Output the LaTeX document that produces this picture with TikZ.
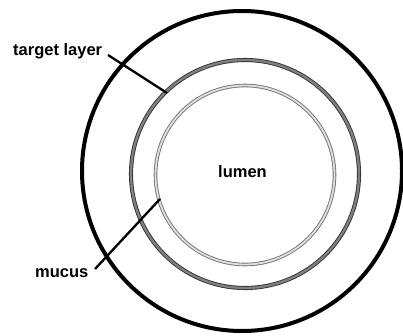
\documentclass[tikz,border=0pt]{standalone}
\usepackage{fontspec}
\setmainfont{Liberation Sans}
\begin{document}
\begin{tikzpicture}[x=1pt,y=-1pt,
  lbl/.style={font=\fontsize{16.5}{18}\selectfont\bfseries, inner sep=0pt},
  leader/.style={line width=2.3pt, black},
  outerwall/.style={line width=4pt, black},
  targetring/.style={draw=black!80, line width=0.9pt, double=black!50, double distance=2.3pt},
  mucusring/.style={draw=black!55, line width=0.9pt, double=black!12, double distance=1.8pt}]
\useasboundingbox (0,0) rectangle (403,336);
\draw[outerwall] (242,171) circle[radius=160];
\draw[targetring] (245,174) circle[radius=114];
\draw[mucusring] (245,175) circle[radius=89.5];
\node[lbl, anchor=base west] (tl) at (13,56) {target layer};
\node[lbl, anchor=base west] (mu) at (35,277) {mucus};
\node[lbl, anchor=base west] (lu) at (218,178) {lumen};
\coordinate (tlend) at (167,93);
\coordinate (muend) at (160,199);
\coordinate (tlstart) at (108,55);
\coordinate (mustart) at (95,269);
\draw[leader] (tlstart) -- (tlend);
\draw[leader] (mustart) -- (muend);
\end{tikzpicture}
\end{document}
